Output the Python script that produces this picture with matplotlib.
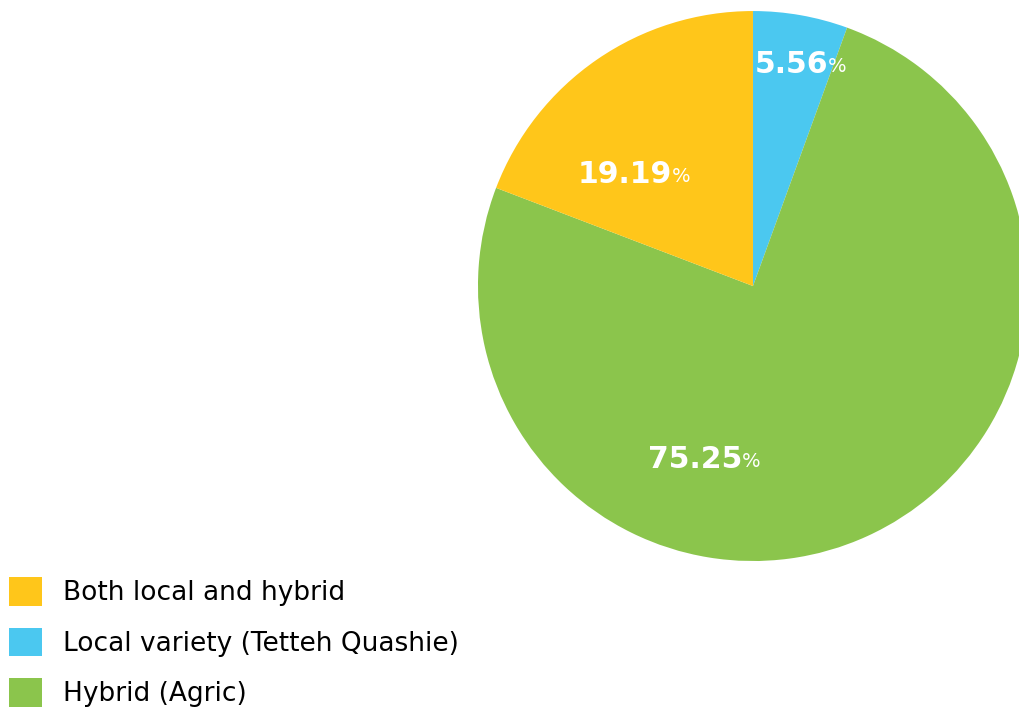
import matplotlib.pyplot as plt
from matplotlib.patches import Patch

plt.rcParams["font.family"] = ["DejaVu Sans"]

labels = ["Local variety (Tetteh Quashie)", "Hybrid (Agric)", "Both local and hybrid"]
shares = [5.56, 75.25, 19.19]
colors = ["#4bc8f0", "#8bc54c", "#ffc61a"]
legend_order = [2, 0, 1]
# right edge / vertical centre of each value label, in axes fraction
label_xy = [(0.636, 0.902), (0.480, 0.184), (0.353, 0.702)]

fig = plt.figure(figsize=(10.2, 7.08), dpi=100)
ax = fig.add_axes([0.4686, 0.2076, 0.5392, 0.7768])
wedges, _ = ax.pie(shares, colors=colors, startangle=90, counterclock=False,
                   radius=1, wedgeprops=dict(linewidth=0))
ax.set_xlim(-1, 1)
ax.set_ylim(-1, 1)
ax.set_aspect("equal")
ax.axis("off")

for v, (x, y) in zip(shares, label_xy):
    t = ax.text(x, y, f"{v:.2f}", transform=ax.transAxes, ha="right", va="center",
                color="white", fontsize=21.5, fontweight="bold")
    ax.annotate("%", xy=(1.0, 0.12), xycoords=t, ha="left", va="bottom",
                color="white", fontsize=14)

handles = [Patch(facecolor=colors[i], edgecolor="none") for i in legend_order]
fig.legend(handles, [labels[i] for i in legend_order], loc="upper left",
           bbox_to_anchor=(9 / 1020, 1 - 577 / 708), frameon=False,
           fontsize=19, borderpad=0, borderaxespad=0, handlelength=1.25,
           handleheight=1.3, handletextpad=0.8, labelspacing=0.81)

fig.savefig("out.png", dpi=100)
